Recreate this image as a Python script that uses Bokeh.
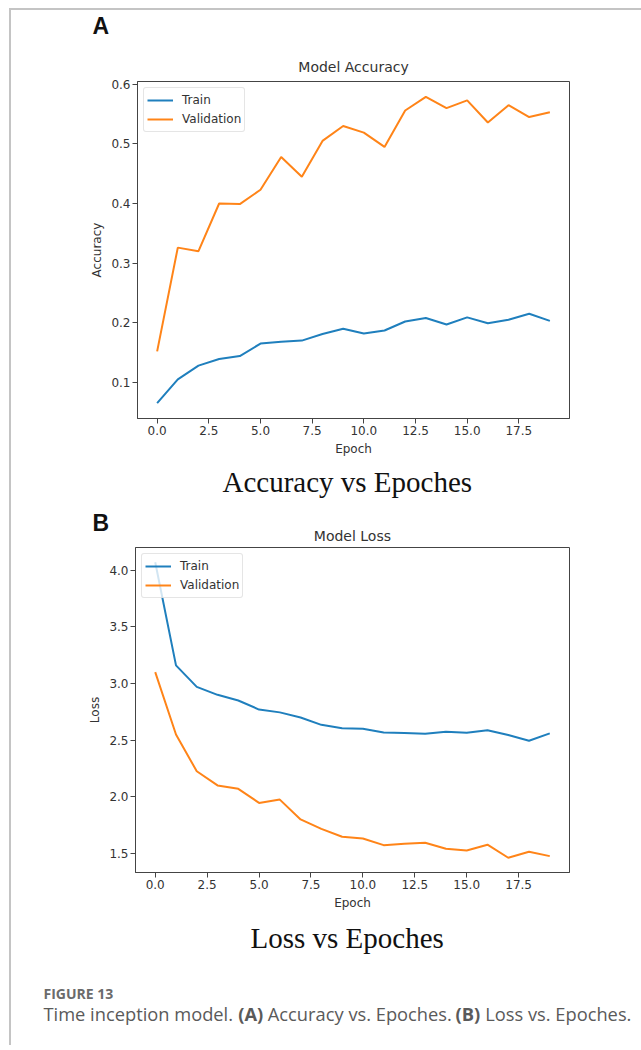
from bokeh.plotting import figure
from bokeh.models import Range1d, FixedTicker, NumeralTickFormatter, Title
from bokeh.layouts import column
from bokeh.embed import file_html
from bokeh.resources import INLINE
from bokeh.core.properties import value

# ---------------- data ----------------
epochs = list(range(20))
acc_train = [0.065, 0.105, 0.128, 0.139, 0.144, 0.165, 0.168, 0.170, 0.181, 0.190,
             0.182, 0.187, 0.202, 0.208, 0.197, 0.209, 0.199, 0.205, 0.215, 0.203]
acc_val = [0.152, 0.326, 0.320, 0.400, 0.399, 0.423, 0.478, 0.445, 0.505, 0.530,
           0.519, 0.495, 0.556, 0.579, 0.560, 0.573, 0.536, 0.565, 0.545, 0.553]
loss_train = [4.07, 3.16, 2.97, 2.90, 2.85, 2.77, 2.745, 2.70, 2.635, 2.605,
              2.60, 2.567, 2.562, 2.556, 2.575, 2.565, 2.588, 2.545, 2.495, 2.56]
loss_val = [3.10, 2.55, 2.225, 2.10, 2.07, 1.946, 1.975, 1.80, 1.717, 1.647,
            1.632, 1.573, 1.585, 1.594, 1.541, 1.526, 1.577, 1.462, 1.515, 1.476]
x_ticks = [0, 2.5, 5, 7.5, 10, 12.5, 15, 17.5]
acc_ticks = [0.1, 0.2, 0.3, 0.4, 0.5, 0.6]
loss_ticks = [1.5, 2.0, 2.5, 3.0, 3.5, 4.0]
series_names = ["Train", "Validation"]

BLUE = "#1f7fbd"
ORANGE = "#ff8418"
TXT = "#333333"
FONT = "DejaVu Sans"
W = 630


def padded(vals, frac=0.05):
    lo, hi = min(vals), max(vals)
    m = (hi - lo) * frac
    return Range1d(lo - m, hi + m)


def no_align(p):
    if "frame_align" in p.properties():
        p.frame_align = False


def strip(height):
    s = figure(width=W, height=height, toolbar_location=None, output_backend="svg",
               x_range=Range1d(0, W), y_range=Range1d(height, 0),
               x_axis_type=None, y_axis_type=None, min_border=0, title=None)
    no_align(s)
    s.grid.visible = False
    s.outline_line_color = None
    return s


def letter_strip(height, letter, lx, ly, title=None, tx=None, ty=None):
    s = strip(height)
    s.text(x=[lx], y=[ly], text=[letter], text_font=value("Liberation Sans"),
           text_font_size="23px", text_font_style="bold", text_color="#111111",
           text_align="left", text_baseline="middle")
    if title:
        s.text(x=[tx], y=[ty], text=[title], text_font=value(FONT), text_font_size="14px",
               text_color=TXT, text_align="center", text_baseline="middle")
    return s


def chart(title, ylab, caption, train, val, yticks, height,
          mb_left, mb_right, mb_top, mb_bottom, title_standoff, cap_offset, cap_standoff):
    p = figure(width=W, height=height, title=None, toolbar_location=None,
               output_backend="svg", x_range=padded(epochs), y_range=padded(train + val),
               min_border_left=mb_left, min_border_right=mb_right,
               min_border_top=mb_top, min_border_bottom=mb_bottom)
    no_align(p)
    p.grid.visible = False
    p.outline_line_color = "#444444"
    p.outline_line_width = 1
    p.background_fill_color = "white"
    p.border_fill_color = "white"

    p.line(epochs, train, line_color=BLUE, line_width=2, legend_label=series_names[0])
    p.line(epochs, val, line_color=ORANGE, line_width=2, legend_label=series_names[1])

    for ax in (p.xaxis[0], p.yaxis[0]):
        ax.axis_line_color = "#444444"
        ax.major_tick_line_color = "#444444"
        ax.major_tick_in = 0
        ax.major_tick_out = 5
        ax.minor_tick_line_color = None
        ax.major_label_text_font = FONT
        ax.major_label_text_font_size = "12px"
        ax.major_label_text_color = TXT
        ax.axis_label_text_font = FONT
        ax.axis_label_text_font_size = "12px"
        ax.axis_label_text_font_style = "normal"
        ax.axis_label_text_color = TXT
        ax.major_label_standoff = 2
        ax.axis_label_standoff = 4
        ax.formatter = NumeralTickFormatter(format="0.0")
    p.xaxis[0].ticker = FixedTicker(ticks=x_ticks)
    p.yaxis[0].ticker = FixedTicker(ticks=yticks)
    p.xaxis[0].axis_label = "Epoch"
    p.yaxis[0].axis_label = ylab

    lg = p.legend[0]
    lg.location = "top_left"
    lg.margin = 6
    lg.padding = 3
    lg.spacing = 1
    lg.glyph_width = 26
    lg.glyph_height = 18
    lg.label_height = 18
    lg.label_standoff = 9
    lg.label_text_font = FONT
    lg.label_text_font_size = "12px"
    lg.label_text_color = TXT
    lg.border_line_color = "#cccccc"
    lg.border_line_width = 1
    lg.border_radius = 3
    lg.background_fill_alpha = 0.8

    if title:
        p.add_layout(Title(text=title, align="center", text_font=FONT, text_font_size="14px",
                           text_font_style="normal", text_color=TXT, standoff=title_standoff),
                     "above")
    p.add_layout(Title(text=caption, align="left", offset=cap_offset, text_font="Liberation Serif",
                       text_font_size="29px", text_font_style="normal", text_color="#111111",
                       standoff=cap_standoff), "below")
    return p


sA = letter_strip(36, "A", 81, 15)
pA = chart("Model Accuracy", "Accuracy", "Accuracy vs Epoches", acc_train, acc_val,
           acc_ticks, 459, 126, 72, 35, 87, 13, 85, 10)
sB = letter_strip(40, "B", 81, 17, "Model Loss", 340.9, 30)
pB = chart(None, "Loss", "Loss vs Epoches", loss_train, loss_val,
           loss_ticks, 415, 124, 72, 2, 87, 9, 115, 14)

# caption block
cap_head = "FIGURE 13"
cap_parts = ["Time inception model.", "(A)", "Accuracy vs. Epoches.", "(B)", "Loss vs. Epoches."]
cap_bold = [False, True, False, True, False]
cap_x = [32, 226.7, 256.3, 444.1, 473.7]

pC = strip(85)
pC.text(x=[32], y=[33], text=[cap_head], text_font=value("Open Sans"), text_font_size="14px",
        text_font_style="bold", text_color="#6b6b6b", text_baseline="middle", text_align="left")
for t, b, xx in zip(cap_parts, cap_bold, cap_x):
    pC.text(x=[xx], y=[53], text=[t], text_font=value("Open Sans"), text_font_size="18.3px",
            text_font_style="bold" if b else "normal", text_color="#5a5a5a",
            text_baseline="middle", text_align="left")

root = column(sA, pA, sB, pB, pC, margin=(8, 0, 0, 9),
              styles={"border-top": "2px solid #c4c4c4", "border-left": "2px solid #c4c4c4"})

open("out.html", "w").write(file_html(root, INLINE))
